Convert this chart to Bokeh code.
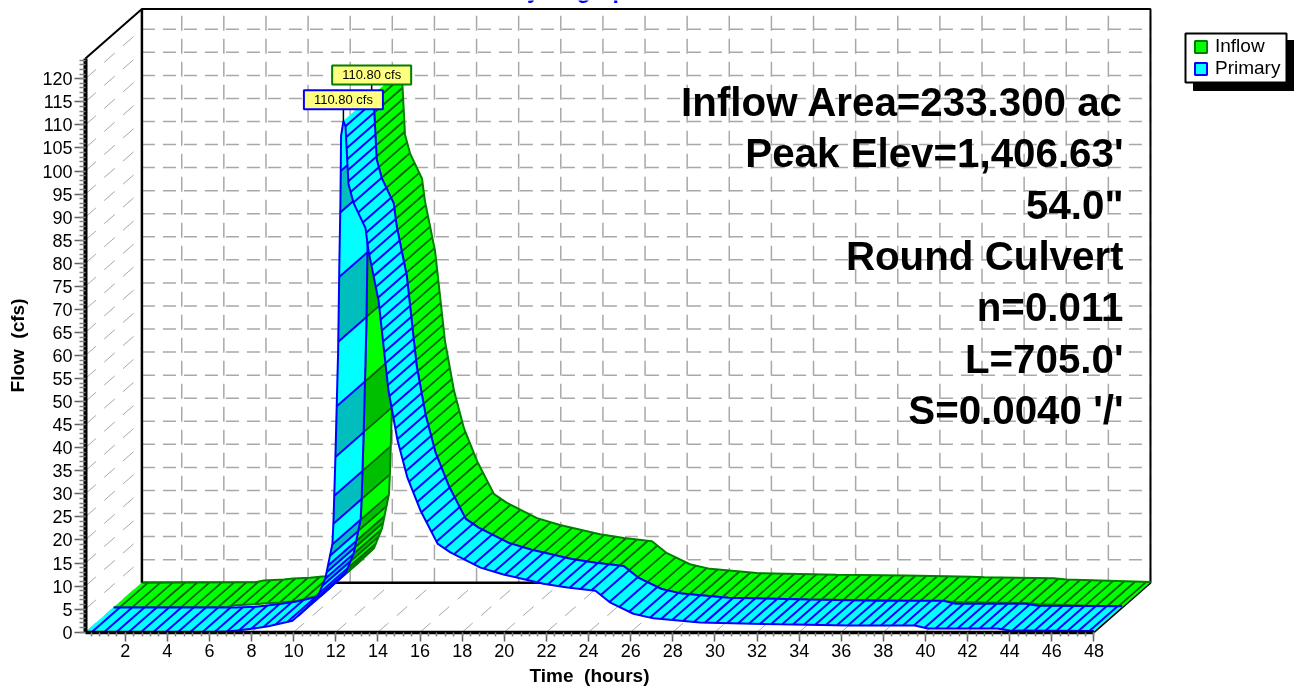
import numpy as np
from bokeh.plotting import figure
from bokeh.embed import file_html
from bokeh.resources import INLINE
from bokeh.models import (Label, Legend, LegendItem, LinearAxis, Range1d,
                          SingleIntervalTicker)

# ---------- data ----------
hours = [0.11, 5.5, 5.9, 6.86, 7.3, 8.09, 8.8, 9.94, 10.32, 11.13, 11.51, 11.84, 11.89, 11.98,
         12.11, 12.17, 12.22, 12.25, 12.36, 12.46, 12.6, 12.84, 13.41, 13.55, 14.03, 14.5, 14.93,
         15.4, 16.02, 16.83, 17.44, 18.87, 19.96, 21.86, 23.0, 24.33, 25.04, 26.13, 27.08, 29.3,
         33.1, 36.4, 39.5, 40.1, 43.4, 44.0, 48.0]
primary_cfs = [0, 0, 0, 0.15, 0.35, 0.8, 1.3, 2.5, 4.0, 7.5, 11.8, 19.2, 24.2, 37.8,
               61, 80.5, 93.5, 107.6, 110.8, 109.7, 97.2, 93.1, 87.6, 82.7, 71.9, 52.4, 41.6,
               33.5, 26.4, 19.2, 17.3, 14.0, 12.5, 10.5, 9.7, 9.0, 6.4, 4.0, 3.0, 2.1,
               1.7, 1.45, 1.45, 0.8, 0.8, 0.35, 0.25]
inflow_cfs = [0, 0.1, 0.5, 0.7, 0.9, 1.05, 1.4, 2.7, 4.0, 7.5, 11.8, 19.2, 24.2, 37.8,
              61, 80.5, 93.5, 107.6, 110.8, 109.7, 97.2, 93.1, 87.6, 82.7, 71.9, 52.4, 41.6,
              33.5, 26.4, 19.2, 17.3, 14.0, 12.5, 10.5, 9.7, 9.0, 6.4, 4.0, 3.0, 2.1,
              1.7, 1.55, 1.3, 1.2, 0.95, 0.7, 0.15]
rise_marks_cfs = [100, 91, 77, 63, 49, 38, 29.6, 23.5, 19, 16.6, 14.4, 13, 11.6, 10, 8.5, 7.5]
peak_cfs = 110.80
notes = ["Inflow Area=233.300 ac", "Peak Elev=1,406.63'", '54.0"', "Round Culvert",
         "n=0.011", "L=705.0'", "S=0.0040 '/'"]

# ---------- layout: the frame fills the page, 1 hour / 1 cfs in pixels ----------
W, H = 1294, 687
PX_H, X0 = 21.06, 82.6      # pixels per hour, pixel of t = 0
PX_C, Y0 = 4.612, 631.7     # pixels per cfs, pixel of 0 cfs
DX, DY = 56.5 / PX_H, 49.5 / PX_C   # depth of the 3-D box in data units
T_MIN, T_MAX, V_MAX = 0.11, 48.0, 124.4


def tx(px):
    return (px - X0) / PX_H


def vy(py):
    return (Y0 - py) / PX_C


p = figure(width=W, height=H, output_backend="svg", toolbar_location=None,
           x_range=Range1d(tx(0), tx(W)), y_range=Range1d(vy(H), vy(0)),
           min_border=0, x_axis_type=None, y_axis_type=None,
           outline_line_color=None, background_fill_color="white",
           border_fill_color="white",
           styles={"position": "fixed", "left": "0", "top": "0"})
p.grid.visible = False

GRID = "#a8a8a8"
y_ticks = list(range(0, 125, 5))
x_ticks = list(range(2, 49, 2))

# back wall
p.segment(x0=[t + DX for t in x_ticks], y0=[DY] * len(x_ticks),
          x1=[t + DX for t in x_ticks], y1=[V_MAX + DY] * len(x_ticks),
          line_color=GRID, line_width=1.5, line_dash="15 8")
p.segment(x0=[T_MIN + DX] * 24, y0=[v + DY for v in y_ticks[1:]],
          x1=[T_MAX + DX] * 24, y1=[v + DY for v in y_ticks[1:]],
          line_color=GRID, line_width=1.5, line_dash="13 8")
# left wall
p.segment(x0=[T_MIN] * 25, y0=y_ticks, x1=[T_MIN + DX] * 25, y1=[v + DY for v in y_ticks],
          line_color=GRID, line_width=1, line_dash="14 11")
# floor
p.segment(x0=x_ticks, y0=[0] * 24, x1=[t + DX for t in x_ticks], y1=[DY] * 24,
          line_color=GRID, line_width=1, line_dash="14 11")
# box edges
p.line([T_MIN, T_MIN + DX, T_MAX + DX, T_MAX + DX, T_MAX],
       [V_MAX, V_MAX + DY, V_MAX + DY, DY, 0], line_color="black", line_width=2)
p.line([T_MIN + DX, T_MIN + DX, T_MAX + DX],
       [V_MAX + DY, DY, DY], line_color="black", line_width=2.5)

# ---------- ribbons ----------
t_arr = np.array(hours)
i_peak = int(np.argmax(primary_cfs))
T_PEAK = hours[i_peak]
rise_marks_t = np.interp(rise_marks_cfs[::-1], primary_cfs[2:i_peak + 1], hours[2:i_peak + 1])


def walk(t, v, step):
    """Stations along the curve, spaced evenly on the screen."""
    d = np.hypot(np.diff(t) * PX_H, np.diff(v) * PX_C)
    s = np.concatenate([[0], np.cumsum(d)])
    return np.interp(np.arange(step / 2, s[-1], step), s, t)


def ribbon(values, d0, d1, light, dark, edge, hatch, edge_w, hatch_w):
    v_arr = np.array(values, float)
    for part in ("rise", "fall"):
        mask = t_arr <= T_PEAK if part == "rise" else t_arr >= T_PEAK
        t, v = t_arr[mask], v_arr[mask]
        if part == "rise":
            low = t <= rise_marks_t[0]
            marks = np.concatenate([walk(t[low], v[low], 12.3), rise_marks_t])
        else:
            marks = walk(t, v, 11.0)
        st = np.unique(np.concatenate([t, marks]))
        sv = np.interp(st, t, v)
        xs, ys, cols = [], [], []
        for a in range(len(st) - 1):
            xs.append([st[a] + DX * d0, st[a + 1] + DX * d0, st[a + 1] + DX * d1, st[a] + DX * d1])
            ys.append([sv[a] + DY * d0, sv[a + 1] + DY * d0, sv[a + 1] + DY * d1, sv[a] + DY * d1])
            mid = 0.5 * (st[a] + st[a + 1])
            shade = False
            if part == "rise" and mid > rise_marks_t[0]:
                shade = int(np.searchsorted(rise_marks_t, mid)) % 2 == 1
            cols.append(dark if shade else light)
        p.patches(xs, ys, fill_color=cols, line_color=cols, line_width=0.6)
        mv = np.interp(marks, t, v)
        p.segment(marks + DX * d0, mv + DY * d0, marks + DX * d1, mv + DY * d1,
                  line_color=hatch, line_width=hatch_w)
        p.line(t + DX * d0, v + DY * d0, line_color=edge, line_width=edge_w)
        p.line(t + DX * d1, v + DY * d1, line_color=edge, line_width=edge_w)


ribbon(inflow_cfs, 0.5, 1.0, "#00ff00", "#00be00", "#008000", "#006400", 2.0, 1.8)
ribbon(primary_cfs, 0.0, 0.5, "#00ffff", "#00bebe", "#0000ff", "#0000ff", 2.0, 2.0)

# ---------- peak labels ----------
p.segment([T_PEAK, T_PEAK + DX / 2], [peak_cfs, peak_cfs + DY / 2],
          [T_PEAK, T_PEAK + DX / 2], [peak_cfs + 4, peak_cfs + DY / 2 + 4],
          line_color="black", line_width=1.5)
for tt, vv, col in ((T_PEAK, peak_cfs, "#0000ff"), (T_PEAK + DX / 2, peak_cfs + DY / 2, "#007f00")):
    p.add_layout(Label(x=tt, y=vv, x_offset=0, y_offset=12, text=f"{peak_cfs:.2f} cfs",
                       text_font="Liberation Sans", text_font_size="13px", text_color="black",
                       text_align="center", text_baseline="bottom",
                       background_fill_color="#ffff80", border_line_color=col,
                       border_line_width=2, padding=(10, 2)))

# ---------- notes ----------
for i, txt in enumerate(notes):
    p.add_layout(Label(x=tx(1123), y=vy(102 + i * 51.3), text=txt, text_font="Liberation Sans",
                       text_font_size="40.3px", text_font_style="bold", text_color="black",
                       text_align="right", text_baseline="middle"))

p.add_layout(Label(x=tx(575), y=vy(-11), text="Hydrograph", text_font="Liberation Sans",
                   text_font_size="23px", text_font_style="bold", text_color="#0000ff",
                   text_align="center", text_baseline="alphabetic"))

# ---------- axes ----------
xa = LinearAxis(ticker=SingleIntervalTicker(interval=2, num_minor_ticks=5), bounds=(T_MIN, T_MAX),
                fixed_location=0, axis_label="Time\u00a0\u00a0(hours)")
ya = LinearAxis(ticker=SingleIntervalTicker(interval=5, num_minor_ticks=5), bounds=(0, V_MAX),
                fixed_location=T_MIN, axis_label="Flow\u00a0\u00a0(cfs)")
for a, w in ((xa, 3.5), (ya, 4)):
    a.axis_line_color = "black"
    a.axis_line_width = w
    a.major_tick_line_color = "#606060"
    a.minor_tick_line_color = "#808080"
    a.major_tick_in = 0
    a.minor_tick_in = 0
    a.major_tick_line_width = 1.5
    a.minor_tick_line_width = 1.5
    a.major_label_text_font = "Liberation Sans"
    a.major_label_text_font_size = "18px"
    a.major_label_text_color = "black"
    a.axis_label_text_font = "Liberation Sans"
    a.axis_label_text_font_size = "19px"
    a.axis_label_text_font_style = "bold"
    a.axis_label_text_color = "black"
xa.major_tick_out = 9
xa.minor_tick_out = 4
ya.major_tick_out = 11
ya.minor_tick_out = 6
xa.major_label_standoff = 3
ya.major_label_standoff = 2
xa.axis_label_standoff = 4
ya.axis_label_standoff = 11
p.add_layout(xa, "below")
p.add_layout(ya, "left")

# ---------- legend ----------
p.quad(left=[tx(1193)], right=[tx(1295)], top=[vy(40)], bottom=[vy(90)],
       fill_color="black", line_color="black")
p.quad(left=[tx(1185)], right=[tx(1286)], top=[vy(33)], bottom=[vy(82)],
       fill_color="white", line_color="black", line_width=2)
r1 = p.quad(left=[-100], right=[-99], top=[-100], bottom=[-101], fill_color="#00ff00", line_color="#007f00", line_width=2)
r2 = p.quad(left=[-100], right=[-99], top=[-100], bottom=[-101], fill_color="#00ffff", line_color="#0000ff", line_width=2)
leg = Legend(items=[LegendItem(label="Inflow", renderers=[r1]), LegendItem(label="Primary", renderers=[r2])],
             location=(1193, H - 79), orientation="vertical", border_line_color=None,
             background_fill_alpha=0,
             label_text_font="Liberation Sans", label_text_font_size="19px", label_text_color="black",
             glyph_width=15, glyph_height=15, padding=0, margin=0, spacing=0, label_standoff=7,
             label_height=20)
p.add_layout(leg)

open("out.html", "w").write(file_html(p, INLINE))
